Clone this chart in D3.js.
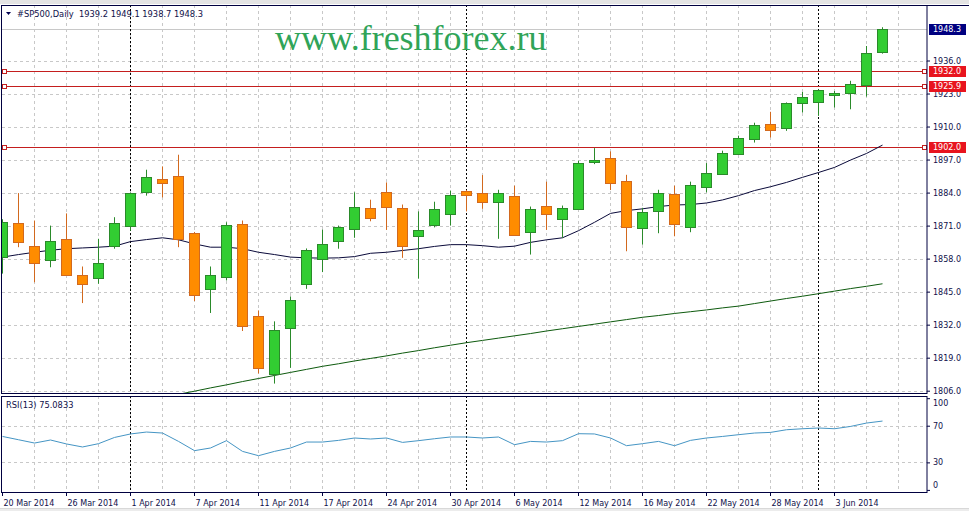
<!DOCTYPE html>
<html><head><meta charset="utf-8">
<script src="https://cdn.jsdelivr.net/npm/d3@7"></script>
<style>
body{margin:0;background:#fff;overflow:hidden}
svg{display:block}
text{font-family:"DejaVu Sans",Tahoma,sans-serif}
</style>
</head><body>
<svg id="c" width="969" height="511"></svg>
<script>
// ---------------- DATA ----------------
const symbol = "#SP500,Daily";
const dates = ["20 Mar 2014","21 Mar 2014","24 Mar 2014","25 Mar 2014","26 Mar 2014","27 Mar 2014","28 Mar 2014","31 Mar 2014",
"1 Apr 2014","2 Apr 2014","3 Apr 2014","4 Apr 2014","7 Apr 2014","8 Apr 2014","9 Apr 2014","10 Apr 2014","11 Apr 2014",
"14 Apr 2014","15 Apr 2014","16 Apr 2014","17 Apr 2014","21 Apr 2014","22 Apr 2014","23 Apr 2014","24 Apr 2014","25 Apr 2014",
"28 Apr 2014","29 Apr 2014","30 Apr 2014","1 May 2014","2 May 2014","5 May 2014","6 May 2014","7 May 2014","8 May 2014",
"9 May 2014","12 May 2014","13 May 2014","14 May 2014","15 May 2014","16 May 2014","19 May 2014","20 May 2014","21 May 2014",
"22 May 2014","23 May 2014","26 May 2014","27 May 2014","28 May 2014","29 May 2014","30 May 2014","2 Jun 2014","3 Jun 2014",
"4 Jun 2014","5 Jun 2014","6 Jun 2014"];
const opens  = [1858.8,1872.1,1863.1,1857.5,1865.8,1851.6,1850.5,1863.0,1870.9,1884.1,1889.3,1890.6,1868.1,1846.1,1850.7,1871.7,
1835.3,1812.4,1830.8,1848.1,1857.9,1864.8,1869.7,1878.0,1884.1,1878.0,1867.1,1871.3,1875.6,1884.5,1883.8,1880.4,1882.8,1868.4,
1878.9,1873.6,1877.6,1896.2,1897.6,1888.7,1869.9,1876.6,1883.5,1870.6,1886.3,1891.5,1899.2,1905.1,1910.9,1909.6,1919.2,1919.7,
1922.6,1923.4,1926.3,1939.2];
const highs  = [1873.5,1883.8,1873.0,1871.0,1875.8,1854.9,1865.8,1874.3,1884.0,1893.0,1894.3,1898.9,1868.5,1854.9,1872.3,1873.0,
1837.6,1833.3,1843.1,1862.0,1869.4,1871.0,1884.1,1881.2,1888.0,1879.3,1876.6,1880.4,1884.8,1885.0,1890.9,1885.1,1886.7,1878.5,
1888.3,1878.9,1896.5,1901.5,1900.2,1891.0,1878.0,1885.1,1886.7,1888.3,1895.6,1900.5,1906.4,1911.5,1915.8,1919.5,1923.6,1924.7,
1924.0,1928.0,1941.7,1949.1];
const lows   = [1852.1,1862.5,1848.7,1854.6,1851.4,1840.5,1848.1,1861.9,1869.0,1882.8,1882.1,1862.5,1841.3,1836.6,1849.4,1829.5,
1812.8,1808.8,1815.0,1846.1,1852.7,1861.9,1866.2,1872.7,1869.3,1858.3,1850.1,1870.3,1871.0,1876.6,1877.6,1865.8,1867.1,1859.6,
1869.3,1866.2,1877.3,1895.2,1885.0,1860.9,1863.5,1868.0,1866.8,1868.4,1884.1,1891.3,1898.8,1903.7,1905.7,1908.3,1915.5,1914.2,
1917.5,1916.8,1921.8,1938.7];
const closes = [1872.3,1864.4,1856.4,1865.0,1851.6,1848.1,1856.4,1872.1,1883.8,1890.2,1887.6,1865.8,1843.8,1851.6,1871.4,1831.5,
1815.0,1829.8,1841.9,1861.5,1863.8,1870.6,1878.5,1874.0,1878.5,1863.1,1869.3,1877.6,1883.1,1883.1,1880.4,1883.8,1867.4,1877.6,
1875.6,1878.0,1895.6,1896.8,1887.8,1870.3,1876.5,1883.8,1871.7,1887.1,1891.9,1899.4,1905.4,1910.6,1908.6,1919.2,1921.8,1924.3,
1923.1,1926.7,1939.1,1948.3];
const maFast = [1858.6,1859.6,1860.5,1861.3,1861.9,1862.2,1862.5,1862.9,1864.7,1865.5,1866.2,1865.4,1863.8,1862.5,1862.5,1861.9,
1860.5,1859.6,1858.6,1858.3,1858.2,1858.3,1858.8,1860.1,1860.5,1861.2,1861.9,1862.8,1863.5,1863.5,1863.1,1862.5,1862.9,1864.4,
1865.4,1866.2,1869.0,1872.3,1875.8,1876.9,1877.6,1878.5,1879.1,1879.3,1879.9,1881.1,1882.8,1884.8,1886.3,1888.0,1890.0,1891.9,
1893.9,1896.8,1899.4,1902.7];
const maSlow = [null,null,null,null,null,null,null,null,null,null,1803.4,1804.6,1805.8,1807.1,1808.3,1809.6,1810.8,1812.0,1813.2,
1814.4,1815.6,1816.6,1817.7,1818.7,1819.7,1820.8,1821.8,1822.9,1823.9,1824.9,1825.8,1826.7,1827.6,1828.5,1829.5,1830.4,1831.3,
1832.2,1833.1,1834.0,1834.9,1835.6,1836.4,1837.1,1837.8,1838.6,1839.3,1840.3,1841.3,1842.3,1843.2,1844.2,1845.2,1846.2,1847.1,1848.1];
const rsi = [58.3,54.7,51.1,54.4,50.1,46.8,50.4,57.2,61.0,63.1,62.0,52.9,42.8,45.7,53.7,42.0,37.3,42.0,45.7,52.2,52.2,54.0,56.6,
55.5,56.6,51.8,53.7,55.8,57.7,57.7,56.6,57.7,49.3,52.9,52.2,53.7,61.3,61.0,56.6,48.2,50.4,52.9,48.2,54.0,56.6,58.3,60.2,62.0,
62.7,65.6,66.7,67.5,66.7,69.2,72.9,75.08];
const rsiLabel = "RSI(13) 75.0833";
const priceTicks = [1806,1819,1832,1845,1858,1871,1884,1897,1910,1923,1936];
const rsiTicks = [0,30,70,100];
const levels = [1932.0,1925.9,1902.0];
const watermark = "www.freshforex.ru";

// ---------------- LAYOUT ----------------
const svg = d3.select("#c");
const M = {l:2, r:927, t:5, b:393};
const S = {t:396, b:492};
const navy = "#10104a";
const n = dates.length;
const x = d3.scaleLinear().domain([0, n-1]).range([2, 882]);
const y = d3.scaleLinear().domain([1806, 1936]).range([390.7, 60.5]);
const yr = d3.scaleLinear().domain([0, 100]).range([489.9, 398.2]);

// frame strips
svg.append("rect").attr("x",0).attr("y",0).attr("width",969).attr("height",4).attr("fill","#e4e4e4");
svg.append("rect").attr("x",0).attr("y",508).attr("width",969).attr("height",3).attr("fill","#ececec");
svg.append("line").attr("x1",0).attr("x2",969).attr("y1",508.5).attr("y2",508.5).attr("stroke","#d8d8d8");

const defs = svg.append("defs");
defs.append("clipPath").attr("id","cm").append("rect").attr("x",M.l).attr("y",M.t).attr("width",M.r-M.l).attr("height",M.b-M.t);
defs.append("clipPath").attr("id","cs").append("rect").attr("x",M.l).attr("y",S.t).attr("width",M.r-M.l).attr("height",S.b-S.t);

const gm = svg.append("g").attr("clip-path","url(#cm)");
const gs = svg.append("g").attr("clip-path","url(#cs)");

// grid
const gridIdx = d3.range(2, 57, 2);
[ [gm, M.t, M.b], [gs, S.t, S.b] ].forEach(([g, t, b]) => {
  g.selectAll(null).data(gridIdx).join("line")
    .attr("x1", d => Math.round(x(d))+0.5).attr("x2", d => Math.round(x(d))+0.5)
    .attr("y1", t).attr("y2", b)
    .attr("stroke","#c8c8c8").attr("stroke-dasharray","3,3");
});
gm.selectAll(null).data(priceTicks).join("line")
  .attr("x1", M.l).attr("x2", M.r)
  .attr("y1", d => Math.round(y(d))+0.5).attr("y2", d => Math.round(y(d))+0.5)
  .attr("stroke","#c8c8c8").attr("stroke-dasharray","3,3");
gs.selectAll(null).data([30,70]).join("line")
  .attr("x1", M.l).attr("x2", M.r)
  .attr("y1", d => Math.round(yr(d))+0.5).attr("y2", d => Math.round(yr(d))+0.5)
  .attr("stroke","#c8c8c8").attr("stroke-dasharray","3,3");

// bid line
const last = n-1;
gm.append("line").attr("x1",M.l).attr("x2",M.r)
  .attr("y1", Math.round(y(closes[last]))+0.5).attr("y2", Math.round(y(closes[last]))+0.5)
  .attr("stroke","#c8c8c8");

// period separators (month start)
const sepIdx = d3.range(1, n).filter(i => dates[i].split(" ")[1] !== dates[i-1].split(" ")[1]);
[ [gm, M.t, M.b], [gs, S.t, S.b] ].forEach(([g, t, b]) => {
  g.selectAll(null).data(sepIdx).join("line")
    .attr("x1", d => Math.round(x(d))+0.5).attr("x2", d => Math.round(x(d))+0.5)
    .attr("y1", t).attr("y2", b)
    .attr("stroke","#000").attr("stroke-dasharray","2,2");
});

// horizontal level lines
gm.selectAll(null).data(levels).join("line")
  .attr("x1", M.l).attr("x2", M.r)
  .attr("y1", d => Math.round(y(d))+0.5).attr("y2", d => Math.round(y(d))+0.5)
  .attr("stroke","#c41e1e");

// watermark
gm.append("text").attr("x",275).attr("y",50)
  .attr("font-family","'Liberation Serif','Times New Roman',serif")
  .style("font-family","'Liberation Serif','Times New Roman',serif")
  .attr("font-size",36).attr("fill","#30a458").text(watermark);

// moving averages
const lineGen = d3.line().defined(d => d[1] != null).x(d => x(d[0])+0.5).y(d => y(d[1]));
gm.append("path").attr("d", lineGen(maSlow.map((v,i)=>[i,v]))).attr("fill","none").attr("stroke","#0d5a0d").attr("stroke-width",1);
gm.append("path").attr("d", lineGen(maFast.map((v,i)=>[i,v]))).attr("fill","none").attr("stroke","#0a0a3a").attr("stroke-width",1);

// candles
const candles = d3.range(n).map(i => ({i, o:opens[i], h:highs[i], l:lows[i], c:closes[i]}));
const cg = gm.selectAll(null).data(candles).join("g");
cg.append("line")
  .attr("x1", d => Math.round(x(d.i))+0.5).attr("x2", d => Math.round(x(d.i))+0.5)
  .attr("y1", d => y(d.h)).attr("y2", d => y(d.l))
  .attr("stroke", d => d.c >= d.o ? "#2a8a2a" : "#d2691e");
cg.append("rect")
  .attr("x", d => Math.round(x(d.i))-4.5)
  .attr("width", 10)
  .attr("y", d => Math.round(y(Math.max(d.o,d.c)))+0.5)
  .attr("height", d => Math.max(0.01, Math.round(y(Math.min(d.o,d.c))) - Math.round(y(Math.max(d.o,d.c)))))
  .attr("fill", d => d.c >= d.o ? "#32cd32" : "#ff8c00")
  .attr("stroke", d => d.c >= d.o ? "#2a8a2a" : "#d2691e");

// level squares
gm.selectAll(null).data(levels).join("rect")
  .attr("x", 2.5).attr("y", d => Math.round(y(d))-1.5).attr("width",4).attr("height",4)
  .attr("fill","#fff").attr("stroke","#c41e1e");
svg.selectAll(null).data(levels).join("rect")
  .attr("x", 922.5).attr("y", d => Math.round(y(d))-1.5).attr("width",4).attr("height",4)
  .attr("fill","#fff").attr("stroke","#c41e1e");

// RSI line
gs.append("path")
  .attr("d", d3.line().x((d,i)=>x(i)+0.5).y(d=>yr(d))(rsi))
  .attr("fill","none").attr("stroke","#4595c4").attr("stroke-width",1);

// panel borders
svg.append("rect").attr("x",M.l-0.5).attr("y",M.t+0.5).attr("width",M.r-M.l+0.5).attr("height",M.b-M.t)
  .attr("fill","none").attr("stroke","#000040");
svg.append("line").attr("x1",M.r).attr("x2",969).attr("y1",M.t+0.5).attr("y2",M.t+0.5).attr("stroke","#000040");
svg.append("rect").attr("x",M.l-0.5).attr("y",S.t+0.5).attr("width",M.r-M.l+0.5).attr("height",S.b-S.t)
  .attr("fill","none").attr("stroke","#000040");

// right price axis
const ay = svg.append("g").attr("transform",`translate(${M.r},0)`)
  .call(d3.axisRight(y).tickValues(priceTicks).tickSize(3).tickPadding(3).tickFormat(d3.format(".1f")));
ay.select(".domain").remove();
ay.selectAll("line").attr("stroke","#000040");
ay.selectAll("text").attr("fill",navy).attr("font-size",8).style("font-family","'DejaVu Sans',sans-serif");

// rsi axis
const ar = svg.append("g").attr("transform",`translate(${M.r},0)`)
  .call(d3.axisRight(yr).tickValues(rsiTicks).tickSize(3).tickPadding(3));
ar.select(".domain").remove();
ar.selectAll("line").attr("stroke","#000040");
ar.selectAll("text").attr("fill",navy).attr("font-size",8).style("font-family","'DejaVu Sans',sans-serif")
  .attr("dy", d => d === 100 ? "0.95em" : d === 0 ? "-0.25em" : "0.32em");

// bottom date axis
const labelIdx = d3.range(0, n, 4);
const ax = svg.append("g").attr("transform",`translate(0,${S.b})`)
  .call(d3.axisBottom(x).tickValues(labelIdx).tickSize(4).tickFormat(i => dates[i]));
ax.select(".domain").remove();
ax.selectAll(".tick").attr("transform", d => `translate(${Math.round(x(d))+0.5},0)`);
ax.selectAll("line").attr("stroke","#000040");
ax.selectAll("text").attr("fill",navy).attr("font-size",8).attr("text-anchor","start")
  .attr("x",1).attr("y",14).attr("dy",0).style("font-family","'DejaVu Sans',sans-serif");

// price label boxes
const boxes = [{v:closes[last], c:"#000080"}].concat(levels.map(v => ({v, c:"#e8141e"})));
const bg = svg.selectAll(null).data(boxes).join("g")
  .attr("transform", d => `translate(929,${Math.round(y(d.v))})`);
bg.append("rect").attr("x",0).attr("y",-5).attr("width",37).attr("height",11).attr("fill", d => d.c);
bg.append("text").attr("x",4).attr("y",0).attr("dy","0.35em").attr("fill","#fff").attr("font-size",8)
  .style("font-family","'DejaVu Sans',sans-serif").text(d => d.v.toFixed(1));

// header
svg.append("path").attr("d","M6,12 L11,12 L8.5,15 Z").attr("fill","#000050");
svg.append("text").attr("x",17).attr("y",17).attr("fill",navy).attr("font-size",8.3)
  .style("white-space","pre")
  .text(`${symbol}  ${opens[last].toFixed(1)} ${highs[last].toFixed(1)} ${lows[last].toFixed(1)} ${closes[last].toFixed(1)}`);
svg.append("text").attr("x",6).attr("y",408).attr("fill",navy).attr("font-size",8.3).text(rsiLabel);
</script>
</body></html>
